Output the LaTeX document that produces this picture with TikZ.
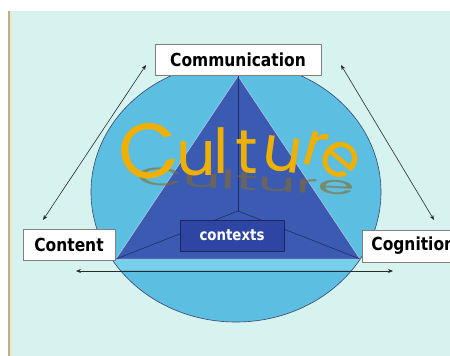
\documentclass[tikz,border=0pt]{standalone}
\usepackage{fontspec}
\usetikzlibrary{arrows.meta}
\newfontfamily\labelfont{DejaVu Sans}[FakeStretch=0.86]
\newfontfamily\culturefont{Poppins}
\definecolor{bgcyan}{HTML}{D6F3F0}
\definecolor{edgegray}{HTML}{B4B09A}
\definecolor{edgecream}{HTML}{ECE8C0}
\definecolor{skyblue}{HTML}{5CBEE0}
\definecolor{bandblue}{HTML}{76D0EA}
\definecolor{pyramid}{HTML}{3B5BB2}
\definecolor{ridge}{HTML}{1F2C62}
\definecolor{ctxfill}{HTML}{2F45A4}
\definecolor{ctxedge}{HTML}{1B2660}
\definecolor{boxgray}{HTML}{808080}
\definecolor{gold}{HTML}{EFB000}
\definecolor{shadowbrown}{HTML}{8A6A28}
\definecolor{arrowgray}{HTML}{2A2A2A}
\begin{document}
\begin{tikzpicture}[x=1pt,y=-1pt,
  labelbox/.style={draw=boxgray, line width=0.8pt, fill=white,
    font=\labelfont\bfseries\fontsize{18}{20}\selectfont, text=black,
    minimum height=31pt, inner xsep=8pt, inner ysep=0pt},
  culletter/.style={anchor=base, inner sep=0pt, text=gold,
    font=\culturefont\fontsize{62}{64}\selectfont},
  twoway/.style={{Stealth[length=5pt,width=4pt]}-{Stealth[length=5pt,width=4pt]},
    line width=0.6pt, draw=arrowgray}]
\useasboundingbox (0,0) rectangle (450,356);
\clip (0,0) rectangle (450,356);

% page background and left margin rule
\fill[white] (0,0) rectangle (450,356);
\fill[bgcyan] (8,11) rectangle (450,356);
\fill[edgegray] (8,11) rectangle (10,356);
\fill[edgecream] (10,11) rectangle (12,356);

% the sphere
\fill[skyblue] (236,192) ellipse [x radius=145pt, y radius=130pt];
\begin{scope}
  \clip (236,192) ellipse [x radius=145pt, y radius=130pt];
  \fill[bandblue] (80,259) rectangle (400,270);
\end{scope}
\draw[line width=0.6pt, draw=ridge!70!gray] (236,192) ellipse [x radius=145pt, y radius=130pt];

% pyramid
\coordinate (apex) at (238,76);
\coordinate (bl) at (116,259);
\coordinate (br) at (360,259);
\coordinate (mid) at (238,211);
\fill[pyramid, draw=white!70!pyramid, line width=0.5pt] (apex) -- (bl) -- (br) -- cycle;
\draw[ridge, line width=0.6pt] (mid) -- (apex);
\draw[ridge, line width=0.6pt] (mid) -- (bl);
\draw[ridge, line width=0.6pt] (mid) -- (br);

% contexts label
\node[draw=ctxedge, line width=0.8pt, fill=ctxfill, text=white,
  minimum width=104pt, minimum height=31pt, inner sep=0pt,
  font=\labelfont\bfseries\fontsize{15.5}{17}\selectfont] (ctx) at (232,235.5) {contexts};

% reflection of the title word
\node[text=shadowbrown, opacity=0.6, inner sep=0pt, rotate=-3,
  font=\culturefont\fontsize{60}{62}\selectfont] (refl) at (246,181)
  {\scalebox{1}[0.42]{Culture}};

% arched title word
\node[culletter, rotate=8, font=\culturefont\fontsize{78}{80}\selectfont] (c1) at (152,178) {C};
\node[culletter]             (c2) at (196,175) {u};
\node[culletter]             (c3) at (221,173) {l};
\node[culletter]             (c4) at (247,173) {t};
\node[culletter, rotate=-8]  (c5) at (280,171) {u};
\node[culletter, rotate=-16] (c6) at (311,166) {r};
\node[culletter, rotate=-40] (c7) at (329,173) {e};

% corner labels
\node[labelbox, minimum width=166pt] (comm) at (238,59.5) {Communication};
\node[labelbox, minimum width=92pt]  (cont) at (69,245) {Content};
\node[labelbox, anchor=west, inner xsep=9pt, minimum height=32pt] (cogn) at (362,246) {Cognition};

% two-way arrows
\coordinate (la) at (146,65);
\coordinate (lb) at (43,220);
\coordinate (ra) at (341,65);
\coordinate (rb) at (434,220);
\coordinate (ha) at (76,271);
\coordinate (hb) at (393,271);
\draw[twoway] (la) -- (lb);
\draw[twoway] (ra) -- (rb);
\draw[twoway] (ha) -- (hb);
\end{tikzpicture}
\end{document}
